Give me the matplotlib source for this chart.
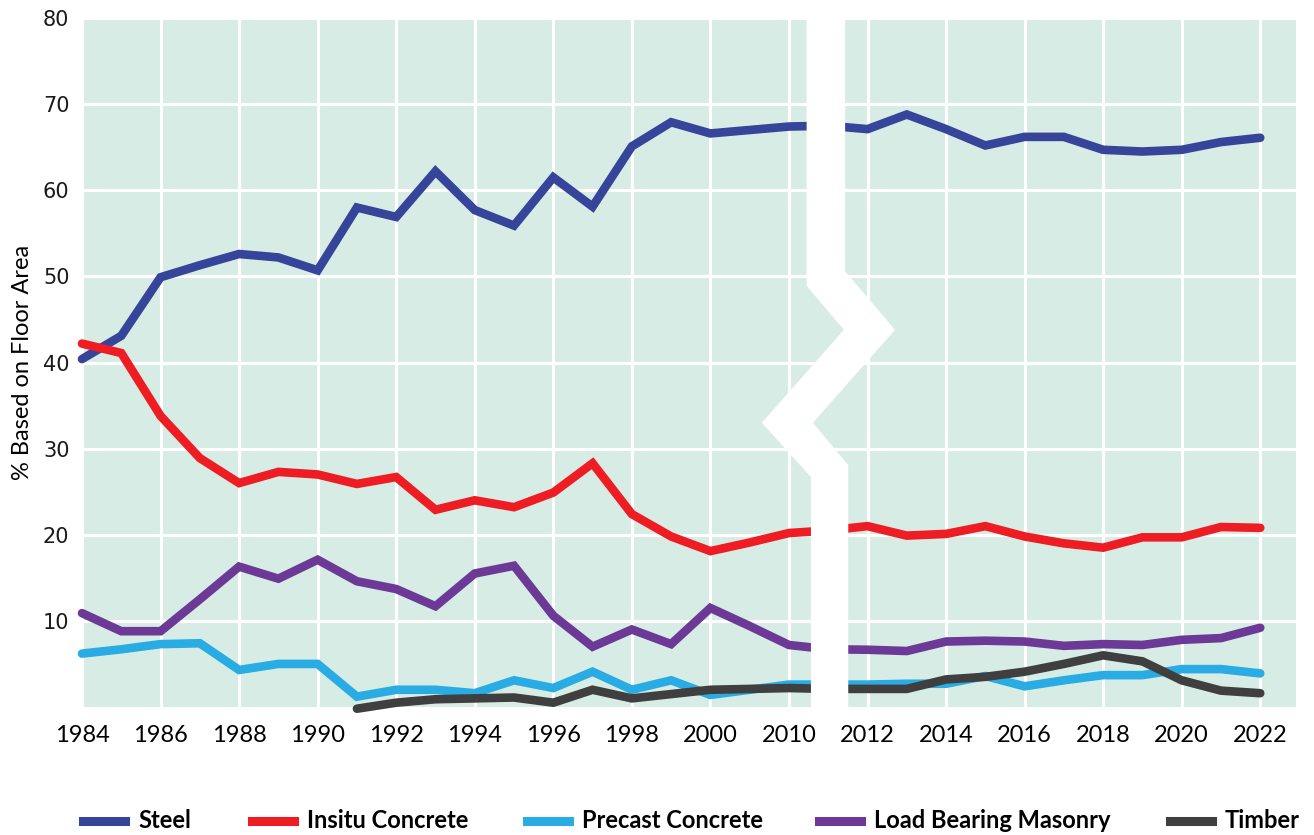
import matplotlib.pyplot as plt
from matplotlib.lines import Line2D
from matplotlib.patches import Polygon

# categories (one per plotted position); index 17 and 19 carry no tick label
years = list(range(1984, 2001)) + [2005, 2010, 2011] + list(range(2012, 2023))
tick_years = list(range(1984, 2001, 2)) + [2010] + list(range(2012, 2023, 2))

steel = [40.4, 43.1, 49.9, 51.3, 52.6, 52.2, 50.7, 58.0, 56.9, 62.2, 57.7, 55.9,
         61.5, 58.1, 65.1, 67.9, 66.6, 67.0, 67.4, 67.5,
         67.1, 68.8, 67.1, 65.2, 66.2, 66.2, 64.7, 64.5, 64.7, 65.6, 66.1]
insitu = [42.2, 41.1, 33.8, 28.9, 26.0, 27.3, 27.0, 25.9, 26.7, 22.9, 24.0, 23.2,
          24.9, 28.3, 22.4, 19.8, 18.1, 19.1, 20.2, 20.5,
          21.0, 19.9, 20.1, 21.0, 19.8, 19.0, 18.5, 19.7, 19.7, 20.9, 20.8]
precast = [6.2, 6.7, 7.3, 7.4, 4.3, 5.0, 5.0, 1.2, 2.0, 2.0, 1.6, 3.1,
           2.2, 4.1, 2.0, 3.1, 1.4, 2.0, 2.6, 2.6,
           2.6, 2.7, 2.7, 3.6, 2.4, 3.1, 3.7, 3.7, 4.4, 4.4, 3.9]
masonry = [10.9, 8.8, 8.8, 12.5, 16.3, 14.9, 17.1, 14.6, 13.7, 11.7, 15.5, 16.4,
           10.6, 7.0, 9.0, 7.3, 11.5, 9.4, 7.2, 6.7,
           6.65, 6.5, 7.6, 7.7, 7.6, 7.1, 7.3, 7.2, 7.8, 8.0, 9.2]
# timber starts in 1991
timber = [None] * 7 + [-0.2, 0.5, 0.9, 1.0, 1.1, 0.5, 2.0, 1.0, 1.5, 2.0, 2.1, 2.2, 2.1,
                       2.1, 2.1, 3.2, 3.5, 4.1, 5.0, 6.0, 5.3, 3.1, 1.9, 1.6]

names = ["Steel", "Insitu Concrete", "Precast Concrete", "Load Bearing Masonry", "Timber"]
colors = ["#36449A", "#EE1D24", "#29ACE3", "#6C3A96", "#3F3F3F"]
series = [steel, insitu, precast, masonry, timber]

narrow = ["Lato", "DejaVu Sans"]

fig = plt.figure(figsize=(13.14, 8.35), dpi=100)
ax = fig.add_axes([0.0624, 0.1533, 0.9239, 0.8251])
ax.set_facecolor("#D8ECE6")

idx = list(range(len(years)))
for vals, c in zip(series, colors):
    pts = [(i, v) for i, v in zip(idx, vals) if v is not None]
    ax.plot([p[0] for p in pts], [p[1] for p in pts], color=c, lw=6.2,
            solid_capstyle="round", solid_joinstyle="miter", clip_on=False, zorder=3)

# axis break marker (white zigzag band)
left_edge = [(18.45, 80), (18.45, 48.9), (19.40, 43.8), (17.31, 33.0), (18.56, 26.7), (18.56, 0)]
right_edge = [(19.51, 0), (19.51, 28.1), (18.61, 33.0), (20.70, 43.8), (19.43, 50.6), (19.43, 80)]
ax.add_patch(Polygon(left_edge + right_edge, closed=True, facecolor="white",
                     edgecolor="none", zorder=5))

ax.set_xlim(0, 30.91)
ax.set_ylim(0, 80)
tick_pos = [years.index(y) for y in tick_years]
ax.set_xticks(tick_pos)
ax.set_xticklabels([str(y) for y in tick_years], family=narrow, fontsize=17)
ax.set_yticks(range(10, 90, 10))
ax.set_yticklabels([str(v) for v in range(10, 90, 10)], family="DejaVu Sans",
                   fontsize=15, color="#1a1a1a")
ax.tick_params(axis="both", length=0)
ax.tick_params(axis="x", pad=13)
ax.tick_params(axis="y", pad=9)
ax.grid(True, color="white", lw=2.2, zorder=1)
ax.set_axisbelow(True)
for s in ax.spines.values():
    s.set_visible(False)

ax.set_ylabel("% Based on Floor Area", family=narrow, fontsize=17, labelpad=7)

# legend along the bottom
W, H = 1314, 835
handle_x = [83, 252, 527, 819, 1170]
for x0, name, c in zip(handle_x, names, colors):
    fig.add_artist(Line2D([x0 / W, (x0 + 42) / W], [14 / H, 14 / H], color=c, lw=6.5))
    fig.text((x0 + 55) / W, 14 / H, name, family=narrow, fontweight="bold",
             fontsize=17, va="center", ha="left")

fig.savefig("out.png", dpi=100)
